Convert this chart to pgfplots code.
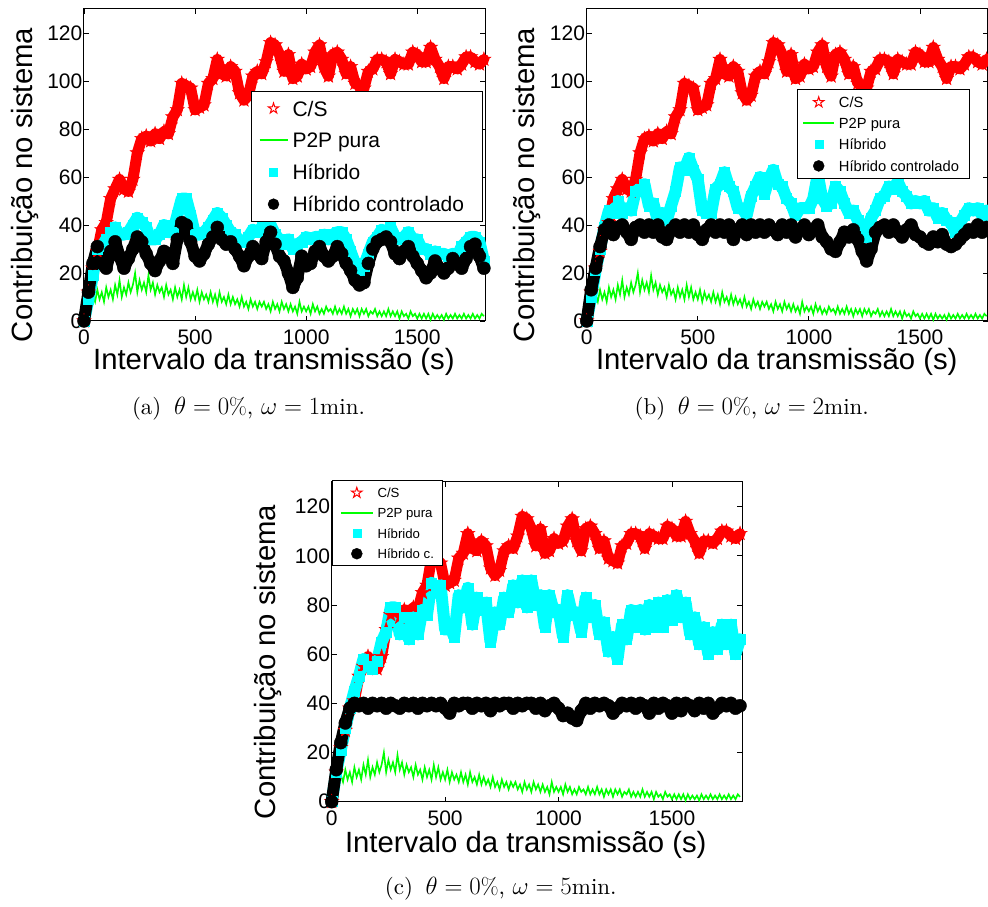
\documentclass[border=0pt]{standalone}
\usepackage{fontspec}
\usepackage{pgfplots}
\pgfplotsset{compat=1.18}
\usepackage{pgfplotstable}
\usetikzlibrary{plotmarks}
\newfontfamily\arial{Liberation Sans}
\newfontfamily\capfont{lmroman10-regular.otf}
\definecolor{mcyan}{rgb}{0,1,1}
\definecolor{mgreen}{rgb}{0,1,0}
\definecolor{mred}{rgb}{1,0,0}

% five-pointed star mark
\pgfdeclareplotmark{pentagram}{%
  \pgfpathmoveto{\pgfpointpolar{90}{\pgfplotmarksize}}%
  \pgfpathlineto{\pgfpointpolar{126}{0.382*\pgfplotmarksize}}%
  \pgfpathlineto{\pgfpointpolar{162}{\pgfplotmarksize}}%
  \pgfpathlineto{\pgfpointpolar{198}{0.382*\pgfplotmarksize}}%
  \pgfpathlineto{\pgfpointpolar{234}{\pgfplotmarksize}}%
  \pgfpathlineto{\pgfpointpolar{270}{0.382*\pgfplotmarksize}}%
  \pgfpathlineto{\pgfpointpolar{306}{\pgfplotmarksize}}%
  \pgfpathlineto{\pgfpointpolar{342}{0.382*\pgfplotmarksize}}%
  \pgfpathlineto{\pgfpointpolar{18}{\pgfplotmarksize}}%
  \pgfpathlineto{\pgfpointpolar{54}{0.382*\pgfplotmarksize}}%
  \pgfpathclose
  \pgfusepathqfillstroke
}

% contributions sampled every 20 s: C/S and, per panel, hybrid / controlled hybrid
\pgfplotstableread{
x cs ha hca hb hcb hc hcc
0 0 0 0 0 0 0 0
20 12 9 12 10 13 12 13
40 22 19 24 21 22 21 24
60 29 30 31 30 31 30 32
80 38 31 24 39 38 38 38
100 41 34 22 46 40 45 40
120 51 37 29 45 36 51 39
140 55 39 33 50 39 58 40
160 59 36 27 45 40 55 38
180 55 36 22 47 37 54 40
200 54 37 26 46 34 57 39
220 59 40 30 54 39 65 40
240 70 43 35 55 40 69 38
260 76 41 33 57 37 79 40
280 77 39 28 48 40 79 39
300 75 34 24 49 37 68 38
320 78 34 21 42 40 75 40
340 76 36 25 45 35 66 39
360 79 40 29 42 34 75 40
380 78 37 28 48 38 68 38
400 85 37 24 54 40 78 40
420 88 44 34 64 37 76 39
440 99 51 41 63 40 89 40
460 98 51 40 68 37 85 39
480 97 44 33 63 40 88 40
500 88 36 27 59 36 70 38
520 89 36 25 46 34 72 36
540 90 37 28 45 38 67 40
560 99 39 32 45 40 84 39
580 101 42 35 55 37 79 40
600 109 45 39 57 40 87 40
620 103 43 34 62 37 72 38
640 102 40 32 56 40 83 40
660 106 37 33 54 34 78 39
680 104 36 30 47 38 81 40
700 95 33 27 47 40 65 37
720 92 33 23 44 36 77 40
740 94 35 27 52 40 72 39
760 102 38 31 56 37 83 40
780 104 37 28 60 40 77 40
800 103 39 26 53 37 88 38
820 108 40 33 59 40 81 40
840 116 40 37 63 38 90 39
860 115 36 32 57 36 79 40
880 111 34 27 56 40 90 40
900 104 32 25 51 37 80 38
920 111 34 20 49 40 84 40
940 101 30 14 44 35 71 37
960 102 32 18 47 38 84 39
980 107 33 27 47 40 77 40
1000 105 35 23 47 36 78 38
1020 106 34 24 51 38 67 35
1040 112 35 29 61 40 84 36
1060 115 35 31 51 35 76 34
1080 106 36 27 48 33 77 33
1100 102 34 25 49 30 69 37
1120 111 36 27 56 29 83 40
1140 112 37 31 54 33 75 38
1160 109 37 28 49 37 80 40
1180 103 34 24 45 35 68 39
1200 106 29 21 46 38 73 40
1220 99 24 17 42 34 61 39
1240 98 21 15 40 29 67 36
1260 97 23 16 35 25 58 38
1280 104 28 24 43 30 72 40
1300 105 33 30 46 37 66 39
1320 109 35 33 51 39 78 40
1340 109 38 34 52 40 71 38
1360 108 37 35 56 37 78 40
1380 103 39 33 55 40 70 39
1400 109 35 28 58 37 80 36
1420 108 34 26 54 35 71 40
1440 107 35 29 52 38 81 38
1460 107 37 31 49 40 71 40
1480 112 34 27 50 36 82 39
1500 111 34 24 49 35 74 36
1520 108 30 21 50 33 84 40
1540 108 30 18 46 32 75 37
1560 114 28 20 47 35 81 40
1580 109 29 25 43 33 68 39
1600 106 28 22 45 36 75 37
1620 101 28 20 42 32 64 40
1640 106 27 22 41 31 71 38
1660 106 28 26 37 32 60 40
1680 105 27 24 41 34 69 36
1700 107 31 22 44 36 62 38
1720 110 33 26 47 38 72 40
1740 110 35 31 46 37 64 39
1760 108 35 32 47 40 72 40
1780 107 33 27 44 37 60 38
1800 109 25 22 46 39 66 39
}\runs

% pure P2P contribution, every 10 s
\pgfplotstableread{
x p
0 0
10 5
20 9
30 6
40 11
50 8
60 13
70 9
80 12
90 8
100 14
110 10
120 13
130 9
140 15
150 11
160 17
170 10
180 14
190 11
200 16
210 12
220 15
230 20
240 12
250 17
260 13
270 16
280 12
290 19
300 13
310 16
320 11
330 15
340 12
350 14
360 10
370 15
380 11
390 13
400 9
410 14
420 10
430 13
440 9
450 15
460 10
470 14
480 9
490 12
500 9
510 13
520 8
530 12
540 9
550 11
560 8
570 12
580 8
590 11
600 7
610 12
620 8
630 10
640 7
650 11
660 7
670 10
680 7
690 9
700 6
710 10
720 6
730 8
740 5
750 9
760 6
770 8
780 5
790 8
800 6
810 8
820 5
830 7
840 4
850 8
860 5
870 7
880 4
890 8
900 5
910 7
920 4
930 7
940 4
950 6
960 3
970 8
980 4
990 6
1000 4
1010 6
1020 3
1030 7
1040 4
1050 6
1060 3
1070 5
1080 3
1090 6
1100 4
1110 5
1120 3
1130 6
1140 3
1150 5
1160 3
1170 6
1180 3
1190 5
1200 2
1210 5
1220 3
1230 5
1240 2
1250 5
1260 3
1270 5
1280 2
1290 4
1300 3
1310 5
1320 2
1330 4
1340 2
1350 4
1360 2
1370 5
1380 2
1390 4
1400 2
1410 4
1420 1
1430 4
1440 2
1450 3
1460 1
1470 4
1480 2
1490 3
1500 1
1510 3
1520 1
1530 3
1540 1
1550 3
1560 0.5
1570 3
1580 1
1590 2.5
1600 1
1610 2.5
1620 0.5
1630 3
1640 1
1650 2.5
1660 1
1670 3
1680 1
1690 2.5
1700 1
1710 3
1720 1
1730 2.5
1740 1
1750 3
1760 1
1770 2.5
1780 1
1790 3
1800 2
}\ptwop

\pgfplotsset{
  contrib/.style={
    scale only axis, anchor=south west,
    xmin=0, ymin=0, ymax=130,
    xtick={0,500,1000,1500}, xticklabels={0,500,1000,1500},
    ytick={0,20,40,60,80,100,120}, yticklabels={0,20,40,60,80,100,120},
    tick align=inside, major tick length=5pt,
    axis line style={line width=1pt},
    every tick/.style={black, line width=0.8pt},
    tick label style={font=\fontsize{21}{24}\arial},
    yticklabel style={inner sep=1.5pt},
    xticklabel style={inner sep=1.5pt, yshift=-7pt},
    label style={font=\fontsize{29.3}{34}\arial},
    xlabel={Intervalo da transmissão (s)},
    ylabel={Contribuição no sistema},
    clip=false,
    legend cell align=left,
  },
  % thick strokes along each marker series fill the dense band of marks
  csband/.style={mred, line width=11pt, line join=round, line cap=round, forget plot},
  hibband/.style={mcyan, line width=12pt, line join=round, line cap=round, forget plot},
  hibcband/.style={black, line width=12pt, line join=round, line cap=round, forget plot},
  cs/.style={only marks, mark=pentagram, mark size=7.5pt, color=mred,
    mark options={fill=mred, line width=0.4pt},
    legend image post style={mark size=5.5pt, mark options={fill=white, line width=1pt}}},
  p2p/.style={no marks, color=mgreen, line width=1.6pt,
    legend image post style={draw=mgreen, line width=2pt}},
  hib/.style={only marks, mark=square*, mark size=5pt, color=mcyan,
    mark options={line width=0.4pt},
    legend image post style={mark size=4pt}},
  hibc/.style={only marks, mark=*, mark size=6.5pt, color=black,
    mark options={line width=0.4pt},
    legend image post style={mark size=5.5pt}},
}

\begin{document}
\begin{tikzpicture}
\useasboundingbox (0pt,0pt) rectangle (988pt,907pt);

% (a) omega = 1 min
\begin{axis}[contrib, at={(84pt,586pt)}, width=401pt, height=312pt, xmax=1805,
  xlabel style={at={(axis description cs:0.4736,-0.157)}, anchor=base},
  ylabel style={at={(axis description cs:-0.128,0.436)}, anchor=base},
  legend style={at={(0.4165,0.737)}, anchor=north west,
    font=\fontsize{21}{24}\arial, draw=black, line width=1pt,
    inner xsep=7pt, inner ysep=1pt, column sep=2pt,
    nodes={inner xsep=2pt, inner ysep=0pt, text height=23.5pt, text depth=8.4pt}},
  legend image code/.code={\draw[mark repeat=2,mark phase=2,#1] plot coordinates {(0pt,0pt) (14pt,0pt) (28pt,0pt)};},
]
\addplot[csband] table[x=x, y=cs] {\runs};
\addplot[cs] table[x=x, y=cs] {\runs};
\addplot[p2p] table[x=x, y=p] {\ptwop};
\addplot[hibband] table[x=x, y=ha] {\runs};
\addplot[hib] table[x=x, y=ha] {\runs};
\addplot[hibcband] table[x=x, y=hca] {\runs};
\addplot[hibc] table[x=x, y=hca] {\runs};
\legend{C/S, P2P pura, Híbrido, Híbrido controlado\hspace*{9pt}}
\end{axis}

% (b) omega = 2 min
\begin{axis}[contrib, at={(586.7pt,586pt)}, width=401pt, height=312pt, xmax=1805,
  xlabel style={at={(axis description cs:0.474,-0.157)}, anchor=base},
  ylabel style={at={(axis description cs:-0.1307,0.436)}, anchor=base},
  legend style={at={(0.5237,0.7436)}, anchor=north west,
    font=\fontsize{14.7}{17}\arial, draw=black, line width=1pt,
    inner xsep=5pt, inner ysep=2.2pt, column sep=2pt,
    nodes={inner xsep=1.7pt, inner ysep=0pt, text height=15.9pt, text depth=5.3pt}},
  legend image code/.code={\draw[mark repeat=2,mark phase=2,#1] plot coordinates {(0pt,0pt) (15.5pt,0pt) (31pt,0pt)};},
]
\addplot[csband] table[x=x, y=cs] {\runs};
\addplot[cs] table[x=x, y=cs] {\runs};
\addplot[p2p] table[x=x, y=p] {\ptwop};
\addplot[hibband] table[x=x, y=hb] {\runs};
\addplot[hib] table[x=x, y=hb] {\runs};
\addplot[hibcband] table[x=x, y=hcb] {\runs};
\addplot[hibc] table[x=x, y=hcb] {\runs};
\legend{C/S, P2P pura, Híbrido, Híbrido controlado\hspace*{4pt}}
\end{axis}

% (c) omega = 5 min
\begin{axis}[contrib, at={(331.7pt,105.3pt)}, width=410.6pt, height=319.7pt, xmax=1810,
  xlabel style={at={(axis description cs:0.4727,-0.158)}, anchor=base},
  ylabel style={at={(axis description cs:-0.1357,0.437)}, anchor=base},
  legend style={at={(0.0015,1.006)}, anchor=north west,
    font=\fontsize{13.2}{16}\arial, draw=black, line width=1pt,
    inner xsep=7pt, inner ysep=2.1pt, column sep=2pt,
    nodes={inner xsep=1.7pt, inner ysep=0pt, text height=14.9pt, text depth=5.4pt}},
  legend image code/.code={\draw[mark repeat=2,mark phase=2,#1] plot coordinates {(0pt,0pt) (16pt,0pt) (32pt,0pt)};},
]
\addplot[csband] table[x=x, y=cs] {\runs};
\addplot[cs] table[x=x, y=cs] {\runs};
\addplot[p2p] table[x=x, y=p] {\ptwop};
\addplot[hibband] table[x=x, y=hc] {\runs};
\addplot[hib] table[x=x, y=hc] {\runs};
\addplot[hibcband] table[x=x, y=hcc] {\runs};
\addplot[hibc] table[x=x, y=hcc] {\runs};
\legend{C/S, P2P pura, Híbrido, Híbrido c.}
\end{axis}

% sub-captions
\node[anchor=base, font=\fontsize{23}{28}\capfont] at (248.5pt,492.5pt)
  {(a)\hspace{0.55em}$\theta=0\%$, $\omega=1$min.};
\node[anchor=base, font=\fontsize{23}{28}\capfont] at (751.7pt,492.5pt)
  {(b)\hspace{0.55em}$\theta=0\%$, $\omega=2$min.};
\node[anchor=base, font=\fontsize{23}{28}\capfont] at (500.8pt,12.5pt)
  {(c)\hspace{0.55em}$\theta=0\%$, $\omega=5$min.};
\end{tikzpicture}
\end{document}
